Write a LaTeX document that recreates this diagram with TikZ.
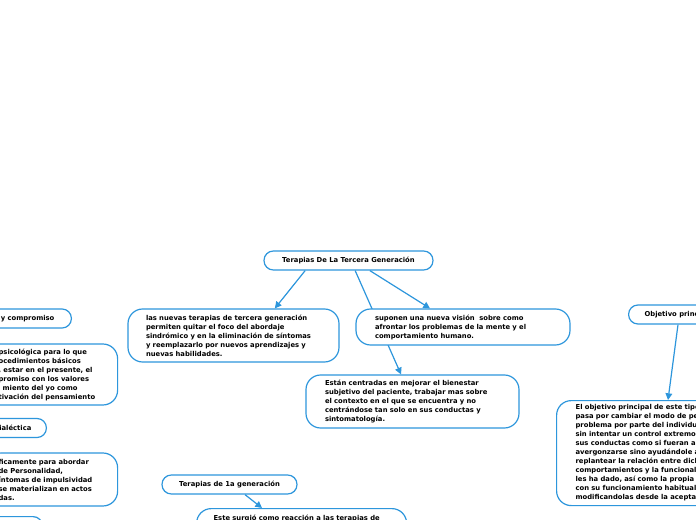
\documentclass[tikz,border=0pt]{standalone}
\usepackage{fontspec}
\setmainfont{DejaVu Sans}
\usetikzlibrary{arrows.meta}
\definecolor{mapblue}{RGB}{45,150,220}
\pgfdeclarelayer{bg}
\pgfsetlayers{bg,main}

\begin{document}
\begin{tikzpicture}[x=0.75pt, y=-0.75pt,
    topic/.style={draw=mapblue, line width=0.9pt, fill=white, rounded corners=7pt,
        font=\fontsize{5.1}{6.75}\selectfont\bfseries, inner ysep=2pt, minimum height=14.25pt},
    idea/.style={topic, rounded corners=11pt, align=left, inner xsep=13.5pt},
    link/.style={mapblue, line width=0.9pt, -{Triangle[length=5pt,width=5pt]}}]
    \useasboundingbox (0,0) rectangle (696,520);
    \clip (0,0) rectangle (696,520);

    % centre
    \node[topic, minimum width=126.75pt] (title) at (348.5,260.5) {Terapias De La Tercera Generación};
    \node[idea, minimum width=158.25pt, minimum height=39.75pt, text width=131.25pt] (quitar) at (233.5,335.5)
        {las nuevas terapias de tercera generación\\permiten quitar el foco del abordaje\\sindrómico y en la eliminación de síntomas\\y reemplazarlo por nuevos aprendizajes y\\nuevas habilidades.};
    \node[idea, minimum width=159.75pt, minimum height=39.75pt, text width=131.25pt, inner xsep=14.25pt] (centradas) at (412.5,401.5)
        {Están centradas en mejorar el bienestar\\subjetivo del paciente, trabajar mas sobre\\el contexto en el que se encuentra y no\\centrándose tan solo en sus conductas y\\sintomatología.};
    \node[idea, minimum width=160.5pt, minimum height=27pt, text width=132pt, inner xsep=14.25pt] (vision) at (463,327)
        {suponen una nueva visión\ \ sobre como\\afrontar los problemas de la mente y el\\comportamiento humano.};

    % right
    \node[topic, anchor=west, inner xsep=12pt] (objetivo) at (628,314.5) {Objetivo principal};
    \node[idea, anchor=north west, minimum width=159.75pt, minimum height=78.75pt, text width=131.25pt, inner xsep=14.25pt] (objtexto) at (556,400)
        {El objetivo principal de este tipo de\\pasa por cambiar el modo de percibir el\\problema por parte del individuo,\\sin intentar un control extremo de\\sus conductas como si fueran algo de\\avergonzarse sino ayudándole a\\replantear la relación entre dichos\\comportamientos y la funcionalidad que\\les ha dado, así como la propia relación\\con su funcionamiento habitual,\\modificandolas desde la aceptación.};

    % bottom
    \node[topic, minimum width=101.25pt] (primera) at (229.5,484.5) {Terapias de 1a generación};
    \node[idea, anchor=north west, minimum width=157.5pt, text width=132pt, inner xsep=12.75pt, inner ysep=5pt, text depth=20pt] (reaccion) at (196,508)
        {Este surgió como reacción a las terapias de};

    % left
    \node[topic, anchor=east, inner xsep=12.75pt] (aceptacion) at (72,318.5) {y compromiso};
    \node[idea, anchor=west, minimum height=45.75pt, text width=80.25pt, inner xsep=9pt] (flexible) at (-14,374.5)
        {psicológica para lo que\\ocedimientos básicos\\, estar en el presente, el\\promiso con los valores\\\hspace{3pt}miento del yo como\\tivación del pensamiento};
    \node[topic, anchor=east, inner xsep=11.25pt] (dialectica) at (47,428) {dialéctica};
    \node[idea, anchor=west, minimum height=39.75pt, text width=80.25pt, inner xsep=9pt] (personalidad) at (-14,479.5)
        {ficamente para abordar\\de Personalidad,\\íntomas de impulsividad\\se materializan en actos\\das.};
    \node[topic, anchor=north east, minimum width=60pt, minimum height=20pt] (siguiente) at (43,516) {};

    \begin{pgfonlayer}{bg}
        \fill[white] (0,0) rectangle (696,520);
        \draw[link] ([xshift=-32.5pt]title.south) -- ([xshift=31pt]quitar.north);
        \draw[link] ([xshift=5pt]title.south) -- ([xshift=-8.6pt]centradas.north);
        \draw[link] ([xshift=16pt]title.south) -- ([xshift=-24.75pt]vision.north);
        \draw[link] ([xshift=37.5pt]objetivo.south west) -- ([xshift=84pt]objtexto.north west);
        \draw[link] ([xshift=11.6pt]primera.south) -- ([xshift=49.5pt]reaccion.north west);
    \end{pgfonlayer}
\end{tikzpicture}
\end{document}
